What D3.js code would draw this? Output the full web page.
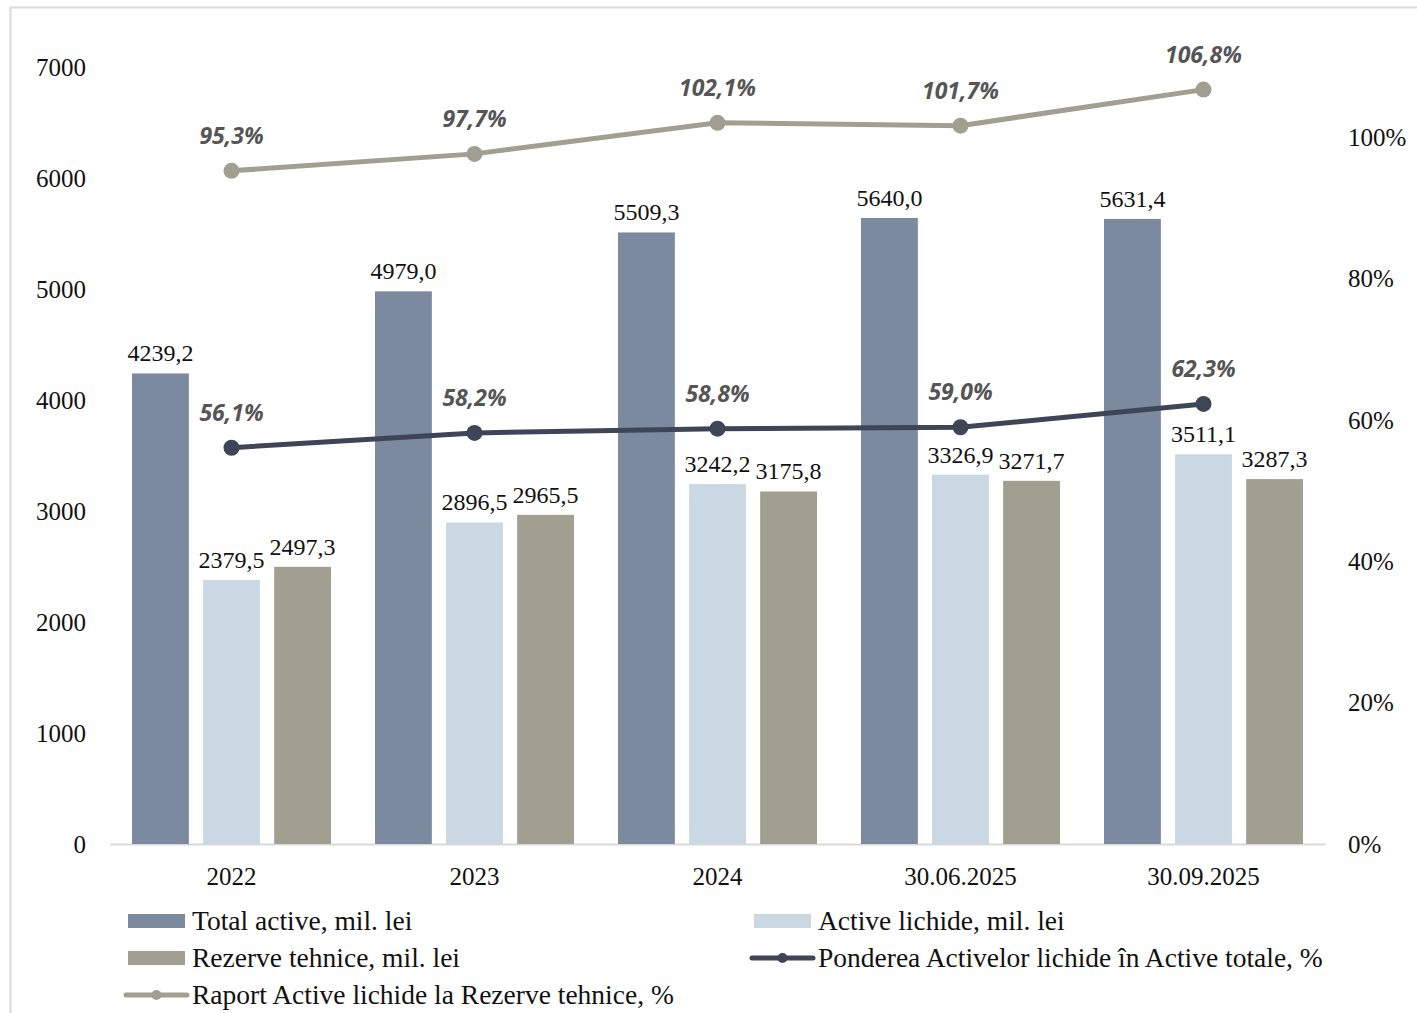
<!DOCTYPE html>
<html>
<head>
<meta charset="utf-8">
<script src="https://cdn.jsdelivr.net/npm/d3@7"></script>
<style>
    body { margin: 0; background: #fff; }
    svg { display: block; }
    .tick text { font-family: "Liberation Serif", serif; }
</style>
</head>
<body>
<script>
// chart data
var categories = ["2022", "2023", "2024", "30.06.2025", "30.09.2025"];
var totalActive = [4239.2, 4979.0, 5509.3, 5640.0, 5631.4];
var activeLichide = [2379.5, 2896.5, 3242.2, 3326.9, 3511.1];
var rezerveTehnice = [2497.3, 2965.5, 3175.8, 3271.7, 3287.3];
var ponderea = [56.1, 58.2, 58.8, 59.0, 62.3];
var raport = [95.3, 97.7, 102.1, 101.7, 106.8];
var leftTicks = [0, 1000, 2000, 3000, 4000, 5000, 6000, 7000];
var rightTicks = [0, 20, 40, 60, 80, 100];

var barSeries = [
    { name: "Total active, mil. lei", values: totalActive, color: "#7b8a9e" },
    { name: "Active lichide, mil. lei", values: activeLichide, color: "#c9d8e2" },
    { name: "Rezerve tehnice, mil. lei", values: rezerveTehnice, color: "#a19f90" }
];
var lineSeries = [
    { name: "Ponderea Activelor lichide în Active totale, %", values: ponderea, color: "#3d4557" },
    { name: "Raport Active lichide la Rezerve tehnice, %", values: raport, color: "#a19f90" }
];

var width = 1417, height = 1013;
var svg = d3.select("body").append("svg")
    .attr("width", width)
    .attr("height", height);

// outer frame
svg.append("rect")
    .attr("x", 10.5).attr("y", 7.5)
    .attr("width", width).attr("height", height)
    .attr("fill", "none")
    .attr("stroke", "#d9d9d9")
    .attr("stroke-width", 2);

var plot = { left: 110, right: 1325, top: 67, bottom: 844 };

var x = d3.scaleBand()
    .domain(categories)
    .range([plot.left, plot.right]);

var xSub = d3.scaleBand()
    .domain(d3.range(barSeries.length))
    .range([x.bandwidth() / 2 - 99.5, x.bandwidth() / 2 + 99.5])
    .paddingInner(0.2);

var y = d3.scaleLinear().domain([0, 7000]).range([plot.bottom, plot.top]);
// right axis: 0-110% on the same height
var y2 = d3.scaleLinear().domain([0, 110]).range([plot.bottom, plot.top]);

// left axis
var leftAxis = svg.append("g")
    .attr("transform", "translate(" + (plot.left - 22) + ",0)")
    .call(d3.axisLeft(y).tickValues(leftTicks).tickSize(0).tickPadding(2)
        .tickFormat(d3.format("d")));
leftAxis.select(".domain").remove();
leftAxis.selectAll("text").attr("font-size", 25).attr("fill", "#111");

// right axis
var rightAxis = svg.append("g")
    .attr("transform", "translate(" + (plot.right + 22) + ",0)")
    .call(d3.axisRight(y2).tickValues(rightTicks).tickSize(0).tickPadding(1)
        .tickFormat(function(d) { return d + "%"; }));
rightAxis.select(".domain").remove();
rightAxis.selectAll("text").attr("font-size", 25).attr("fill", "#111");

// x axis
var xAxis = svg.append("g")
    .attr("transform", "translate(0," + plot.bottom + ")")
    .call(d3.axisBottom(x).tickSize(0).tickPadding(23));
xAxis.select(".domain").attr("stroke", "#d9d9d9").attr("stroke-width", 2);
xAxis.selectAll("text").attr("font-size", 25).attr("fill", "#111");

var fmt = function(v) { return v.toFixed(1).replace(".", ","); };

// bars
barSeries.forEach(function(s, i) {
    var g = svg.append("g").attr("class", "bars");
    g.selectAll("rect")
        .data(s.values)
        .enter()
        .append("rect")
        .attr("x", function(d, j) { return x(categories[j]) + xSub(i); })
        .attr("y", function(d) { return y(d); })
        .attr("width", xSub.bandwidth())
        .attr("height", function(d) { return y(0) - y(d); })
        .attr("fill", s.color);
    g.selectAll("text")
        .data(s.values)
        .enter()
        .append("text")
        .attr("x", function(d, j) { return x(categories[j]) + xSub(i) + xSub.bandwidth() / 2; })
        .attr("y", function(d) { return y(d) - 12; })
        .attr("text-anchor", "middle")
        .attr("font-family", "Liberation Serif, serif")
        .attr("font-size", 24)
        .attr("fill", "#111")
        .text(fmt);
});

// lines
var line = d3.line()
    .x(function(d, j) { return x(categories[j]) + x.bandwidth() / 2; })
    .y(function(d) { return y2(d); });

lineSeries.forEach(function(s) {
    var g = svg.append("g").attr("class", "line");
    g.append("path")
        .datum(s.values)
        .attr("d", line)
        .attr("fill", "none")
        .attr("stroke", s.color)
        .attr("stroke-width", 5);
    g.selectAll("circle")
        .data(s.values)
        .enter()
        .append("circle")
        .attr("cx", function(d, j) { return x(categories[j]) + x.bandwidth() / 2; })
        .attr("cy", function(d) { return y2(d); })
        .attr("r", 8)
        .attr("fill", s.color);
    g.selectAll("text")
        .data(s.values)
        .enter()
        .append("text")
        .attr("x", function(d, j) { return x(categories[j]) + x.bandwidth() / 2; })
        .attr("y", function(d) { return y2(d) - 27; })
        .attr("text-anchor", "middle")
        .attr("font-family", "Open Sans, sans-serif")
        .attr("font-weight", "bold")
        .attr("font-style", "italic")
        .attr("font-size", 23)
        .attr("fill", "#555")
        .text(function(d) { return fmt(d) + "%"; });
});

// legend
var legendItems = [
    { item: barSeries[0], type: "bar", col: 0, row: 0 },
    { item: barSeries[1], type: "bar", col: 1, row: 0 },
    { item: barSeries[2], type: "bar", col: 0, row: 1 },
    { item: lineSeries[0], type: "line", col: 1, row: 1 },
    { item: lineSeries[1], type: "line", col: 0, row: 2 }
];
var legend = svg.append("g").attr("class", "legend");
legendItems.forEach(function(l) {
    var lx = l.col === 0 ? 128 : 754;
    var ly = 921 + l.row * 37;
    var g = legend.append("g").attr("transform", "translate(" + lx + "," + ly + ")");
    if (l.type === "bar") {
        g.append("rect")
            .attr("x", 0).attr("y", -7)
            .attr("width", 57).attr("height", 14)
            .attr("fill", l.item.color);
    } else {
        g.append("line")
            .attr("x1", -2).attr("x2", 59)
            .attr("y1", 0).attr("y2", 0)
            .attr("stroke", l.item.color)
            .attr("stroke-width", 5)
            .attr("stroke-linecap", "round");
        g.append("circle")
            .attr("cx", 28.5).attr("cy", 0).attr("r", 5)
            .attr("fill", l.item.color);
    }
    g.append("text")
        .attr("x", 64).attr("y", 9)
        .attr("font-family", "Liberation Serif, serif")
        .attr("font-size", 27.5)
        .attr("fill", "#111")
        .text(l.item.name);
});
</script>
</body>
</html>
